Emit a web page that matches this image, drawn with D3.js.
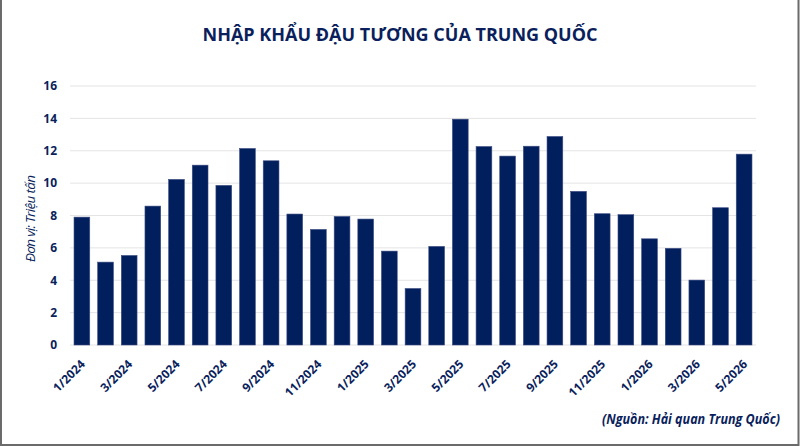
<!DOCTYPE html>
<html>
<head>
<meta charset="utf-8">
<script src="https://cdn.jsdelivr.net/npm/d3@7"></script>
<style>
  html, body { margin: 0; padding: 0; background: #fff; }
  #chart { width: 800px; height: 446px; }
</style>
</head>
<body>
<div id="chart"></div>
<script>
const months = ['1/2024', '2/2024', '3/2024', '4/2024', '5/2024', '6/2024', '7/2024', '8/2024', '9/2024', '10/2024', '11/2024', '12/2024',
    '1/2025', '2/2025', '3/2025', '4/2025', '5/2025', '6/2025', '7/2025', '8/2025', '9/2025', '10/2025', '11/2025', '12/2025',
    '1/2026', '2/2026', '3/2026', '4/2026', '5/2026'];
const imports = [7.9, 5.12, 5.53, 8.58, 10.23, 11.11, 9.86, 12.14, 11.38, 8.09, 7.14, 7.94,
    7.78, 5.8, 3.49, 6.09, 13.95, 12.26, 11.67, 12.28, 12.88, 9.49, 8.11, 8.05,
    6.56, 5.97, 4.01, 8.48, 11.79];
const yTicks = [0, 2, 4, 6, 8, 10, 12, 14, 16];
const shownLabels = months.filter((m, i) => i % 2 === 0);

const width = 800;
const height = 446;
const navy = '#0b1f5c';
const plot = { left: 70, right: 756, top: 86, bottom: 345 };

function buildChart() {
    const svg = d3.select('#chart')
        .append('svg')
        .attr('width', width)
        .attr('height', height);

    // frame: left, right and bottom edges only
    svg.append('path')
        .attr('d', 'M1,0 V445 H798.5 V0')
        .attr('fill', 'none')
        .attr('stroke', '#6b6b6b')
        .attr('stroke-width', 2);

    svg.append('text')
        .attr('x', 400)
        .attr('y', 41)
        .attr('text-anchor', 'middle')
        .attr('font-family', 'Open Sans')
        .attr('font-weight', 'bold')
        .attr('font-size', 18)
        .attr('fill', navy)
        .text('NHẬP KHẨU ĐẬU TƯƠNG CỦA TRUNG QUỐC');

    const x = d3.scaleBand()
        .domain(months)
        .range([plot.left, plot.right])
        .paddingInner(0.335)
        .paddingOuter(0.17);

    const y = d3.scaleLinear()
        .domain([0, 16])
        .range([plot.bottom, plot.top]);

    // grid
    svg.append('g')
        .selectAll('line')
        .data(yTicks)
        .enter()
        .append('line')
        .attr('x1', plot.left)
        .attr('x2', plot.right)
        .attr('y1', d => y(d))
        .attr('y2', d => y(d))
        .attr('stroke', '#e4e4e4')
        .attr('stroke-width', 1);

    const yAxis = d3.axisLeft(y)
        .tickValues(yTicks)
        .tickSize(0)
        .tickPadding(13);

    const yAxisGroup = svg.append('g')
        .attr('transform', `translate(${plot.left}, 0)`)
        .call(yAxis);
    yAxisGroup.select('.domain').remove();
    yAxisGroup.selectAll('text')
        .attr('font-family', 'Open Sans')
        .attr('font-weight', 'bold')
        .attr('font-size', 12)
        .attr('fill', navy);

    svg.append('text')
        .attr('transform', `translate(35, ${(plot.top + plot.bottom) / 2 + 3}) rotate(-90)`)
        .attr('text-anchor', 'middle')
        .attr('font-family', 'Open Sans')
        .attr('font-style', 'italic')
        .attr('font-size', 13.5)
        .attr('fill', navy)
        .attr('textLength', 87)
        .text('Đơn vị: Triệu tấn');

    svg.append('g')
        .selectAll('rect')
        .data(imports)
        .enter()
        .append('rect')
        .attr('x', (d, i) => x(months[i]))
        .attr('y', d => y(d))
        .attr('width', x.bandwidth())
        .attr('height', d => y(0) - y(d))
        .attr('fill', '#001f5c')
        .attr('stroke', '#3c4c84')
        .attr('stroke-width', 0.6);

    const xAxis = d3.axisBottom(x)
        .tickValues(shownLabels)
        .tickSize(0)
        .tickPadding(0);

    const xAxisGroup = svg.append('g')
        .attr('transform', `translate(0, ${plot.bottom})`)
        .call(xAxis);
    xAxisGroup.select('.domain').remove();
    xAxisGroup.selectAll('text')
        .attr('font-family', 'Open Sans')
        .attr('font-weight', 'bold')
        .attr('font-size', 12)
        .attr('fill', navy)
        .attr('text-anchor', 'end')
        .attr('dy', 0)
        .attr('y', 0)
        .attr('transform', 'translate(4, 20) rotate(-45)');

    svg.append('text')
        .attr('x', 780)
        .attr('y', 424)
        .attr('text-anchor', 'end')
        .attr('font-family', 'Open Sans')
        .attr('font-weight', 'bold')
        .attr('font-style', 'italic')
        .attr('font-size', 13.5)
        .attr('fill', navy)
        .attr('textLength', 178)
        .attr('lengthAdjust', 'spacingAndGlyphs')
        .text('(Nguồn: Hải quan Trung Quốc)');
}

document.addEventListener('DOMContentLoaded', () => buildChart());
</script>
</body>
</html>
